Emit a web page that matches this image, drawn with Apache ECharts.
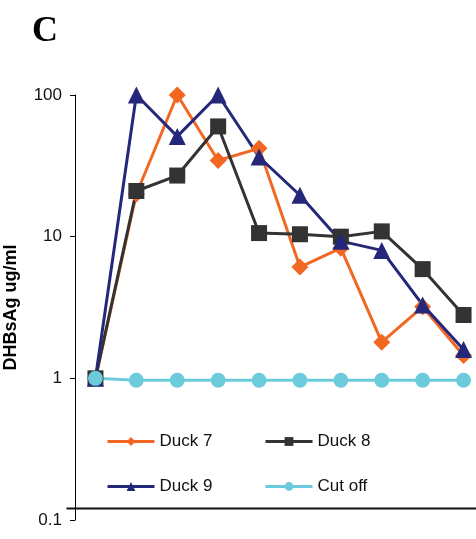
<!DOCTYPE html>
<html>
<head>
<meta charset="utf-8">
<script src="https://cdn.jsdelivr.net/npm/echarts@6/dist/echarts.min.js"></script>
<style>
  html, body { margin: 0; padding: 0; background: #fff; }
  #chart { width: 476px; height: 539px; }
</style>
</head>
<body>
<div id="chart"></div>
<script>
// Sampling points (days), DHBsAg level in ug/ml per duck, and the assay cut off
const days = ['1', '2', '3', '4', '5', '6', '7', '8', '9', '10'];
const duck7 = [1, 20, 100, 34.5, 42, 6.1, 8.3, 1.8, 3.2, 1.45];
const duck8 = [1, 21, 27, 60, 10.6, 10.4, 10.0, 10.9, 5.9, 2.8];
const duck9 = [1, 100, 51, 100, 36.5, 19.6, 9.3, 8.0, 3.3, 1.6];
const cutOff = [1, 0.97, 0.97, 0.97, 0.97, 0.97, 0.97, 0.97, 0.97, 0.97];
const yTicks = [0.1, 1, 10, 100];

const chart = echarts.init(document.getElementById('chart'), null, { renderer: 'canvas' });

const font = 'Liberation Sans, Arial, sans-serif';

function lineSeries(name, data, color, symbol, size) {
  return {
    name: name,
    type: 'line',
    data: data,
    symbol: symbol,
    symbolSize: size,
    showAllSymbol: true,
    lineStyle: { color: color, width: 3 },
    itemStyle: { color: color },
    emphasis: { disabled: true },
    animation: false
  };
}

// one legend entry per component, laid out as a 2 x 2 block
function legendItem(name, left, top) {
  return {
    left: left,
    top: top,
    data: [name],
    itemWidth: 47,
    itemHeight: 11,
    itemGap: 0,
    padding: 0,
    lineStyle: { width: 3 },
    textStyle: { fontFamily: font, fontSize: 17, color: '#111' },
    selectedMode: false
  };
}

chart.setOption({
  backgroundColor: '#fff',
  title: {
    text: 'C',
    left: 27,
    top: 9,
    textStyle: { fontFamily: 'Liberation Serif, Times New Roman, serif', fontWeight: 'bold', fontSize: 36, color: '#000' }
  },
  legend: [
    legendItem('Duck 7', 106, 433),
    legendItem('Duck 8', 264, 433),
    legendItem('Duck 9', 106, 478),
    legendItem('Cut off', 264, 478)
  ],
  grid: { left: 75, top: 95, width: 409, height: 425, containLabel: false, outerBoundsMode: 'none' },
  xAxis: {
    type: 'category',
    data: days,
    boundaryGap: true,
    axisLine: { show: false },
    axisTick: { show: false },
    axisLabel: { show: false },
    splitLine: { show: false }
  },
  yAxis: {
    type: 'log',
    logBase: 10,
    min: yTicks[0],
    max: yTicks[yTicks.length - 1],
    name: 'DHBsAg ug/ml',
    nameLocation: 'middle',
    nameGap: 55,
    nameRotate: 90,
    nameTextStyle: { fontFamily: font, fontSize: 18, fontWeight: 'bold', color: '#000' },
    axisLine: { show: true, lineStyle: { color: '#000', width: 1 } },
    axisTick: { show: true, length: 5, lineStyle: { color: '#000', width: 1 } },
    minorTick: { show: false },
    axisLabel: {
      margin: 13,
      fontFamily: font,
      fontSize: 17,
      color: '#111',
      formatter: function (v) { return String(+v.toPrecision(3)); }
    },
    splitLine: { show: false }
  },
  series: [
    lineSeries('Duck 7', duck7, '#F26722', 'diamond', [17, 17]),
    lineSeries('Duck 8', duck8, '#333333', 'rect', 16),
    lineSeries('Duck 9', duck9, '#25287A', 'triangle', [17, 17]),
    lineSeries('Cut off', cutOff, '#6CCBDB', 'circle', 15)
  ],
  graphic: [
    {
      // horizontal baseline rule under the legend
      type: 'line',
      left: 64,
      bottom: 28,
      shape: { x1: 0, y1: 0, x2: 412, y2: 0 },
      style: { stroke: '#111', lineWidth: 2 },
      silent: true
    }
  ]
});
</script>
</body>
</html>
